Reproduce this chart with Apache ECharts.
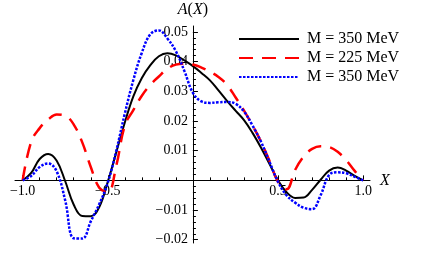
<!DOCTYPE html>
<html>
<head>
<meta charset="utf-8">
<script src="https://cdn.jsdelivr.net/npm/echarts@6/dist/echarts.min.js"></script>
<style>
html,body{margin:0;padding:0;background:#fff;}
#c{width:436px;height:256px;}
</style>
</head>
<body>
<div id="c"></div>
<script>
// x positions of the sampled points
var xs = [-1.00,-0.95,-0.90,-0.85,-0.80,-0.75,-0.70,-0.65,-0.60,-0.55,-0.50,-0.45,-0.40,-0.35,-0.30,-0.25,-0.20,-0.15,-0.10,-0.05,
          0.00,0.05,0.10,0.15,0.20,0.25,0.30,0.35,0.40,0.45,0.50,0.55,0.60,0.65,0.70,0.75,0.80,0.85,0.90,0.95,1.00];
// M = 350 MeV (solid black)
var blackY = [0,0.0025,0.0072,0.0089,0.0066,-0.0003,-0.0082,-0.0120,-0.0121,-0.0090,-0.0005,0.0095,0.0195,0.0283,0.0345,0.0388,0.0418,0.0428,0.0421,0.0404,
              0.0385,0.0362,0.0337,0.0303,0.0268,0.0235,0.0203,0.0160,0.0110,0.0055,0.0000,-0.0040,-0.0059,-0.0058,-0.0032,0.0002,0.0033,0.0043,0.0033,0.0015,0];
// M = 225 MeV (dashed red)
var redY = [0,0.0130,0.0176,0.0205,0.0222,0.0218,0.0188,0.0128,0.0045,-0.0025,-0.0040,0.0050,0.0185,0.0237,0.0285,0.0322,0.0350,0.0376,0.0390,0.0393,
            0.0390,0.0380,0.0366,0.0348,0.0322,0.0280,0.0235,0.0185,0.0130,0.0065,-0.0005,-0.0030,0.0035,0.0080,0.0106,0.0115,0.0112,0.0096,0.0068,0.0032,0];
// M = 350 MeV (dotted blue)
var blueY = [0,0.0015,0.0045,0.0057,0.0030,-0.0068,-0.0195,-0.0196,-0.0138,-0.0080,-0.0008,0.0100,0.0225,0.0338,0.0430,0.0492,0.0505,0.0478,0.0435,0.0368,
             0.0295,0.0266,0.0261,0.0263,0.0264,0.0258,0.0232,0.0185,0.0130,0.0062,-0.0005,-0.0050,-0.0075,-0.0092,-0.0097,-0.0050,0.0018,0.0027,0.0024,0.0012,0];
var seriesNames = ['M = 350 MeV', 'M = 225 MeV', 'M = 350 MeV '];
var xLabels = [-1.0, -0.5, 0.5, 1.0];
var yLabels = [-0.02, -0.01, 0.01, 0.02, 0.03, 0.04, 0.05];

var xMinor = [];
for (var i = -10; i <= 10; i++) { if (i !== 0) xMinor.push(i / 10); }
var yMinor = [];
for (var j = -10; j <= 26; j++) { if (j !== 0) yMinor.push(j * 0.002); }

function pairs(ys) { return xs.map(function (x, k) { return [x, ys[k]]; }); }
function fmt(v, d) { return (v < 0 ? '\u2212' : '') + Math.abs(v).toFixed(d); }

var FONT = 'Liberation Serif';
var G = {left: 15, right: 66, top: 26, bottom: 13};
var W = 436, H = 256;
var X_MIN = -1.045, X_MAX = 1.04, Y_MIN = -0.0211, Y_MAX = 0.052;
var chart = echarts.init(document.getElementById('c'), null, {renderer: 'canvas'});
var lineSt = {show: true, onZero: false, lineStyle: {color: '#000', width: 1}};
chart.setOption({
  animation: false,
  backgroundColor: '#fff',
  grid: {left: G.left, right: G.right, top: G.top, bottom: G.bottom, containLabel: false, outerBoundsMode: 'none'},
  legend: {
    orient: 'vertical', left: 238, top: 31, padding: 0,
    itemWidth: 60, itemHeight: 14, itemGap: 3,
    data: seriesNames,
    itemStyle: {color: 'rgba(0,0,0,0)', borderWidth: 0, opacity: 0},
    textStyle: {fontFamily: FONT, fontSize: 16, color: '#000', padding: [0, 0, 0, 3]}
  },
  xAxis: [{
    type: 'value', min: X_MIN, max: X_MAX, position: 'bottom',
    splitLine: {show: false},
    axisLine: lineSt,
    name: 'X', nameLocation: 'end', nameGap: 10,
    nameTextStyle: {fontFamily: FONT, fontSize: 16, fontStyle: 'italic', color: '#000'},
    axisTick: {show: true, inside: true, length: 3, customValues: xMinor, lineStyle: {color: '#000'}},
    axisLabel: {customValues: xLabels, margin: 4, fontFamily: FONT, fontSize: 14, color: '#000',
                formatter: function (v) { return fmt(v, 1); }}
  }, {
    type: 'value', min: X_MIN, max: X_MAX, position: 'top',
    splitLine: {show: false},
    axisLine: {show: false},
    axisTick: {show: true, inside: false, length: 5, customValues: xLabels, lineStyle: {color: '#000'}},
    axisLabel: {show: false}
  }],
  yAxis: [{
    type: 'value', min: Y_MIN, max: Y_MAX, position: 'left',
    splitLine: {show: false},
    axisLine: lineSt,
    name: '{i|A}({i|X})', nameLocation: 'end', nameGap: 8,
    nameTextStyle: {fontFamily: FONT, fontSize: 16, color: '#000',
      rich: {i: {fontFamily: FONT, fontSize: 16, fontStyle: 'italic', color: '#000'}}},
    axisTick: {show: true, inside: true, length: 3, customValues: yMinor, lineStyle: {color: '#000'}},
    axisLabel: {customValues: yLabels, margin: 5, fontFamily: FONT, fontSize: 14, color: '#000',
                formatter: function (v) { return fmt(v, 2); }}
  }, {
    type: 'value', min: Y_MIN, max: Y_MAX, position: 'right',
    splitLine: {show: false},
    axisLine: {show: false},
    axisTick: {show: true, inside: false, length: 5, customValues: yLabels, lineStyle: {color: '#000'}},
    axisLabel: {show: false}
  }],
  series: [
    {name: seriesNames[0], type: 'line', data: pairs(blackY), smooth: 0.4, symbol: 'none',
     lineStyle: {color: '#000', width: 2}, itemStyle: {color: '#000'}},
    {name: seriesNames[1], type: 'line', data: pairs(redY), smooth: 0.4, symbol: 'none',
     lineStyle: {color: '#ff0000', width: 2.5, type: [14, 9]}, itemStyle: {color: '#ff0000'}},
    {name: seriesNames[2], type: 'line', data: pairs(blueY), smooth: 0.4, symbol: 'none',
     lineStyle: {color: '#0000ff', width: 2.5, type: [2.5, 1.5]}, itemStyle: {color: '#0000ff'}}
  ]
});
// move the axes so that they cross at the origin (labels follow the axis lines)
var o = chart.convertToPixel({xAxisIndex: 0, yAxisIndex: 0}, [0, 0]);
var gBottom = H - G.bottom, gRight = W - G.right;
chart.setOption({
  xAxis: [{offset: o[1] - gBottom}, {offset: G.top - o[1]}],
  yAxis: [{offset: G.left - o[0]}, {offset: o[0] - gRight}]
});
</script>
</body>
</html>
